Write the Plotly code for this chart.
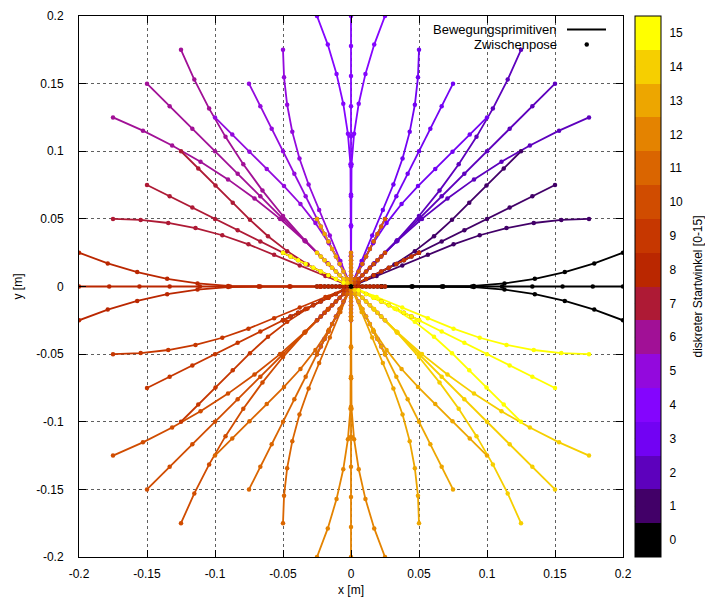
import plotly.graph_objects as go

# ---------------- data ----------------
# Intermediate poses (10 per primitive) of the base motion primitives, in metres.
# Template for start angle 0 (0 deg): fwd 1 cell, fwd 8 cells, back 1 cell, turn left, turn right, 2x turn in place
P0_X = [
    [0, .002778, .005556, .008333, .011111, .013889, .016667, .019444, .022222, .025],
    [0, .022222, .044444, .066667, .088889, .111111, .133333, .155556, .177778, .2],
    [0, -.002778, -.005556, -.008333, -.011111, -.013889, -.016667, -.019444, -.022222, -.025],
    [0, .022588, .045176, .067763, .090345, .112851, .135173, .157208, .178852, .2],
    [0, .022588, .045176, .067763, .090345, .112851, .135173, .157208, .178852, .2],
    [0, 0, 0, 0, 0, 0, 0, 0, 0, 0],
    [0, 0, 0, 0, 0, 0, 0, 0, 0, 0],
]
P0_Y = [
    [0, 0, 0, 0, 0, 0, 0, 0, 0, 0],
    [0, 0, 0, 0, 0, 0, 0, 0, 0, 0],
    [0, 0, 0, 0, 0, 0, 0, 0, 0, 0],
    [0, 0, 0, 0, .000391, .002268, .005687, .010633, .017080, .025],
    [0, 0, 0, 0, -.000391, -.002268, -.005687, -.010633, -.017080, -.025],
    [0, 0, 0, 0, 0, 0, 0, 0, 0, 0],
    [0, 0, 0, 0, 0, 0, 0, 0, 0, 0],
]
# Template for start angle 1 (22.5 deg)
P22_X = [
    [0, .005556, .011111, .016667, .022222, .027778, .033333, .038889, .044444, .05],
    [0, .016667, .033333, .05, .066667, .083333, .1, .116667, .133333, .15],
    [0, -.005556, -.011111, -.016667, -.022222, -.027778, -.033333, -.038889, -.044444, -.05],
    [0, .016289, .031952, .046894, .061026, .074262, .086952, .099635, .112317, .125],
    [0, .018842, .037684, .056526, .075386, .094634, .114331, .134366, .154626, .175],
    [0, 0, 0, 0, 0, 0, 0, 0, 0, 0],
    [0, 0, 0, 0, 0, 0, 0, 0, 0, 0],
]
P22_Y = [
    [0, .002778, .005556, .008333, .011111, .013889, .016667, .019444, .022222, .025],
    [0, .008333, .016667, .025, .033333, .041667, .05, .058333, .066667, .075],
    [0, -.002778, -.005556, -.008333, -.011111, -.013889, -.016667, -.019444, -.022222, -.025],
    [0, .007497, .016228, .026142, .037179, .049270, .061952, .074635, .087317, .1],
    [0, .007805, .015609, .023414, .031172, .037900, .043171, .046958, .049238, .05],
    [0, 0, 0, 0, 0, 0, 0, 0, 0, 0],
    [0, 0, 0, 0, 0, 0, 0, 0, 0, 0],
]
# Template for start angle 2 (45 deg)
P45_X = [
    [0, .002778, .005556, .008333, .011111, .013889, .016667, .019444, .022222, .025],
    [0, .016667, .033333, .05, .066667, .083333, .1, .116667, .133333, .15],
    [0, -.002778, -.005556, -.008333, -.011111, -.013889, -.016667, -.019444, -.022222, -.025],
    [0, .017032, .033918, .049976, .065081, .079193, .092275, .104292, .115210, .125],
    [0, .017032, .034207, .052158, .070917, .090433, .110655, .131530, .152996, .175],
    [0, 0, 0, 0, 0, 0, 0, 0, 0, 0],
    [0, 0, 0, 0, 0, 0, 0, 0, 0, 0],
]
P45_Y = [
    [0, .002778, .005556, .008333, .011111, .013889, .016667, .019444, .022222, .025],
    [0, .016667, .033333, .05, .066667, .083333, .1, .116667, .133333, .15],
    [0, -.002778, -.005556, -.008333, -.011111, -.013889, -.016667, -.019444, -.022222, -.025],
    [0, .017032, .034207, .052158, .070917, .090433, .110655, .131530, .152996, .175],
    [0, .017032, .033918, .049976, .065081, .079193, .092275, .104292, .115210, .125],
    [0, 0, 0, 0, 0, 0, 0, 0, 0, 0],
    [0, 0, 0, 0, 0, 0, 0, 0, 0, 0],
]

START_ANGLES = [0, 1, 2, 3, 4, 5, 6, 7, 8, 9, 10, 11, 12, 13, 14, 15]
PALETTE = ["#000000", "#420068", "#5d01bd", "#7202f3", "#8405fe", "#9309dd", "#a11096", "#ae1a35",
           "#ba2700", "#c63700", "#d04c00", "#da6500", "#e48300", "#eda600", "#f6cf00", "#ffff00"]
TICKS = [-0.2, -0.15, -0.1, -0.05, 0, 0.05, 0.1, 0.15, 0.2]
TICK_TEXT = ["-0.2", "-0.15", "-0.1", "-0.05", "0", "0.05", "0.1", "0.15", "0.2"]
LEGEND_LABELS = ["Bewegungsprimitiven", "Zwischenpose"]
CB_TITLE = "diskreter Startwinkel [0-15]"


def primitives_for(k):
    """Templates repeat every 90 deg (symmetry of the primitive set)."""
    fam = k % 4
    if fam == 0:
        xs, ys = P0_X, P0_Y
    elif fam == 1:
        xs, ys = P22_X, P22_Y
    elif fam == 2:
        xs, ys = P45_X, P45_Y
    else:  # 67.5 deg: mirror of the 22.5 deg template about y = x
        xs, ys = P22_Y, P22_X
    prims = [(list(a), list(b)) for a, b in zip(xs, ys)]
    for _ in range(k // 4):  # rotate by 90 deg
        prims = [([-v for v in b], list(a)) for a, b in prims]
    return prims


def joined(prims):
    X, Y = [], []
    for a, b in prims:
        X += a + [None]
        Y += b + [None]
    return X, Y


FONT = "Liberation Sans, Arial, sans-serif"
PLOT_W = 544.0  # plot area width in px (for paper-coordinate decorations)
PLOT_H = 541.0
fig = go.Figure()

# all lines first, then all intermediate poses (gnuplot-like layering)
for k in START_ANGLES:
    X, Y = joined(primitives_for(k))
    fig.add_trace(go.Scatter(x=X, y=Y, mode="lines", line=dict(color=PALETTE[k], width=1.8),
                             showlegend=False, hoverinfo="skip"))
for k in START_ANGLES:
    X, Y = joined(primitives_for(k))
    fig.add_trace(go.Scatter(x=X, y=Y, mode="markers", marker=dict(color=PALETTE[k], size=4.5),
                             showlegend=False, hoverinfo="skip"))
# start pose
fig.add_trace(go.Scatter(x=[0], y=[0], mode="markers", marker=dict(color="black", size=5),
                         showlegend=False, hoverinfo="skip"))

# colour bar (discrete, 16 levels)
n = len(PALETTE)
cscale = []
for i, c in enumerate(PALETTE):
    cscale += [[i / n, c], [(i + 1) / n, c]]
CB_X0 = 1.022
CB_THICK = 26
fig.add_trace(go.Scatter(
    x=[None], y=[None], mode="markers", showlegend=False, hoverinfo="skip",
    marker=dict(color=[0], cmin=-0.5, cmax=15.5, colorscale=cscale, showscale=True,
                colorbar=dict(x=CB_X0, xanchor="left", y=0.5, yanchor="middle", len=1, lenmode="fraction",
                              thickness=CB_THICK, thicknessmode="pixels", xpad=0, ypad=0,
                              outlinecolor="black", outlinewidth=1,
                              tickvals=START_ANGLES, ticks="outside", ticklen=6,
                              tickcolor="rgba(0,0,0,0)",
                              tickfont=dict(family=FONT, size=12, color="black")))))
# inward tick marks on both sides of the colour bar (gnuplot style)
cb_x1 = CB_X0 + CB_THICK / PLOT_W
tl = 6 / PLOT_W
for k in START_ANGLES:
    yk = (k + 0.5) / n
    fig.add_shape(type="line", xref="paper", yref="paper", x0=CB_X0, x1=CB_X0 + tl, y0=yk, y1=yk,
                  line=dict(color="black", width=1))
    fig.add_shape(type="line", xref="paper", yref="paper", x0=cb_x1 - tl, x1=cb_x1, y0=yk, y1=yk,
                  line=dict(color="black", width=1))
fig.add_annotation(xref="paper", yref="paper", x=(697 - 79) / PLOT_W, y=0.5, text=CB_TITLE, textangle=-90,
                   showarrow=False, xanchor="center", yanchor="middle", borderpad=0,
                   font=dict(family=FONT, size=12, color="black"))

axis_common = dict(range=[-0.2, 0.2], tickvals=TICKS, ticktext=TICK_TEXT, ticks="inside", ticklen=7,
                   tickcolor="black", showline=True, linecolor="black", linewidth=1, mirror="allticks",
                   showgrid=True, gridcolor="#606060", griddash="dot", gridwidth=1, zeroline=False,
                   automargin=False, tickfont=dict(family=FONT, size=12, color="black"))
fig.update_xaxes(**axis_common, ticklabelstandoff=6,
                 title=dict(text="x [m]", font=dict(family=FONT, size=12, color="black"), standoff=5))
fig.update_yaxes(**axis_common, ticklabelstandoff=12,
                 title=dict(text="y [m]", font=dict(family=FONT, size=12, color="black"), standoff=11))

# gnuplot-style key (text right-aligned, sample to the right)
fig.add_annotation(xref="paper", yref="paper", x=(558 - 79) / PLOT_W, y=(557 - 29.5) / PLOT_H,
                   text=LEGEND_LABELS[0], showarrow=False, borderpad=0,
                   xanchor="right", yanchor="middle", font=dict(family=FONT, size=13, color="black"))
fig.add_annotation(xref="paper", yref="paper", x=(558 - 79) / PLOT_W, y=(557 - 44.5) / PLOT_H,
                   text=LEGEND_LABELS[1], showarrow=False, borderpad=0,
                   xanchor="right", yanchor="middle", font=dict(family=FONT, size=13, color="black"))
fig.add_shape(type="line", xref="paper", yref="paper", x0=(567 - 79) / PLOT_W, x1=(606 - 79) / PLOT_W,
              y0=(557 - 29.5) / PLOT_H, y1=(557 - 29.5) / PLOT_H, line=dict(color="black", width=2))
fig.add_shape(type="circle", xref="paper", yref="paper", x0=(584.5 - 79) / PLOT_W, x1=(589 - 79) / PLOT_W,
              y0=(557 - 46.7) / PLOT_H, y1=(557 - 42.2) / PLOT_H,
              line=dict(color="black", width=0), fillcolor="black")

# the page adds an 8 px body margin, so the figure is 8 px smaller and shifted margins compensate
fig.update_layout(template="none", width=705, height=590, margin=dict(l=71, r=90, t=8, b=41, autoexpand=False),
                  plot_bgcolor="white", paper_bgcolor="white", font=dict(family=FONT, size=12, color="black"))

fig.write_html("out.html")
